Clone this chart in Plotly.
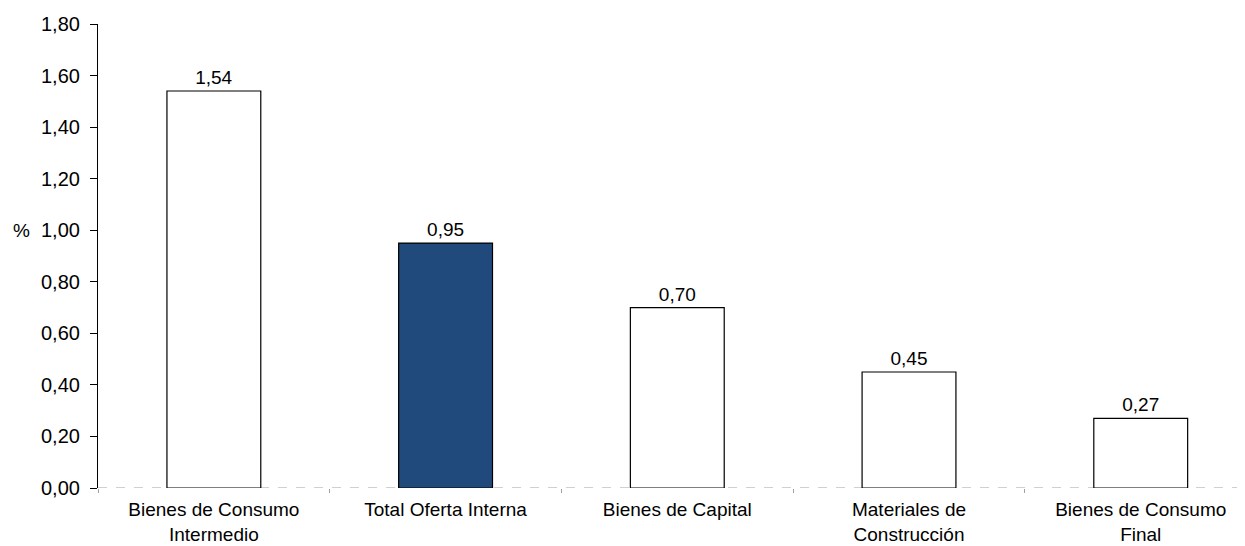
import plotly.graph_objects as go

categories = ["Bienes de Consumo<br>Intermedio", "Total Oferta Interna", "Bienes de Capital",
              "Materiales de<br>Construcción", "Bienes de Consumo<br>Final"]
values = [1.54, 0.95, 0.70, 0.45, 0.27]
colors = ["#FFFFFF", "#214A7C", "#FFFFFF", "#FFFFFF", "#FFFFFF"]
y_ticks = [0, 0.2, 0.4, 0.6, 0.8, 1.0, 1.2, 1.4, 1.6, 1.8]

font = "Liberation Sans, Arial, sans-serif"
fs = 19

fig = go.Figure()
fig.add_trace(go.Bar(
    x=categories, y=values,
    marker=dict(color=colors, line=dict(color="#000000", width=1.2)),
    width=0.405,
    texttemplate="%{y:.2f}", textposition="outside",
    textfont=dict(family=font, size=fs, color="#000000"),
    cliponaxis=False,
))

fig.add_shape(type="line", xref="paper", yref="y", x0=0, x1=1, y0=0, y1=0,
              line=dict(color="#A0A0A0", width=1, dash="dash"), layer="below")

fig.add_annotation(text="%", xref="paper", yref="y", x=0, y=1.0, xshift=-77, xanchor="center",
                   showarrow=False, font=dict(family=font, size=fs, color="#000000"))

# The page body adds an 8px offset; margins compensate so the plot area lands where the reference has it.
fig.update_layout(
    width=1237, height=538,
    margin=dict(l=90, r=0, t=16, b=58, autoexpand=False),
    paper_bgcolor="white", plot_bgcolor="white",
    separators=",.",
    showlegend=False,
    font=dict(family=font, size=fs, color="#000000"),
    xaxis=dict(
        range=[-0.5, 4.45],
        showline=False, showgrid=False, zeroline=False,
        ticks="outside", tickson="boundaries", ticklen=4, tickcolor="#A0A0A0",
        tickfont=dict(family=font, size=fs, color="#000000"),
        ticklabelstandoff=8,
        automargin=False,
    ),
    yaxis=dict(
        range=[0, 1.8], tickvals=y_ticks, tickformat=".2f",
        showline=True, linecolor="#000000", linewidth=1.2,
        ticks="outside", ticklen=7, tickcolor="#000000",
        ticklabelstandoff=6,
        showgrid=False, zeroline=False,
        tickfont=dict(family=font, size=20, color="#000000"),
        automargin=False,
    ),
)

fig.write_html("out.html")
